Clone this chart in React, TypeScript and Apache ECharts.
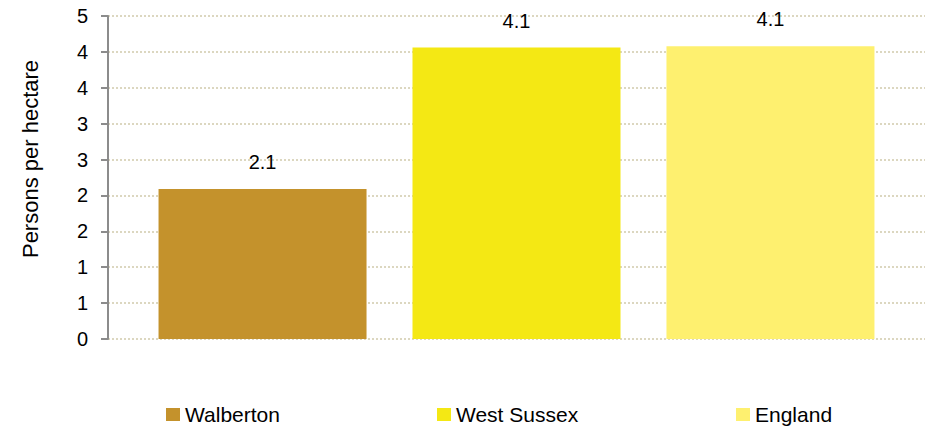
import React, { useEffect, useRef } from "react";
import * as echarts from "echarts";

const seriesNames = ["Walberton", "West Sussex", "England"];
const seriesValues = [2.09, 4.06, 4.08];
const seriesColors = ["#C4922C", "#F4E814", "#FEF06F"];
const yAxisTitle = "Persons per hectare";

const FONT = "'Liberation Sans', Arial, sans-serif";

export default function App() {
  const ref = useRef<HTMLDivElement>(null);
  useEffect(() => {
    if (!ref.current) return;
    const chart = echarts.init(ref.current, undefined, { renderer: "svg" });
    const legendLefts = [166, 437, 736];
    chart.setOption({
      animation: false,
      backgroundColor: "#ffffff",
      textStyle: { fontFamily: FONT },
      grid: { left: 108, right: 1, top: 16, height: 323 },
      xAxis: {
        type: "category",
        data: [""],
        axisLine: { show: false },
        axisTick: { show: false },
        axisLabel: { show: false },
      },
      yAxis: {
        type: "value",
        min: 0,
        max: 4.5,
        interval: 0.5,
        axisLine: { show: true, lineStyle: { color: "#8c8c8c", width: 2 } },
        axisTick: { show: true, length: 7, lineStyle: { color: "#8c8c8c", width: 2 } },
        axisLabel: {
          margin: 20,
          color: "#000",
          fontSize: 20,
          fontFamily: FONT,
          formatter: (v: number) => String(Math.round(v)),
        },
        splitLine: {
          show: true,
          lineStyle: { color: "#dcd7c0", width: 2, type: [2, 2] },
        },
      },
      legend: seriesNames.map((n, i) => ({
        data: [n],
        left: legendLefts[i],
        top: 404,
        padding: 0,
        icon: "rect",
        itemWidth: 14,
        itemHeight: 13,
        itemGap: 5,
        textStyle: { color: "#000", fontSize: 21, fontFamily: FONT, padding: [0, 0, 0, 0] },
        selectedMode: false,
      })),
      graphic: [
        {
          type: "text",
          x: 30,
          y: 159,
          rotation: Math.PI / 2,
          style: {
            text: yAxisTitle,
            fill: "#000",
            font: `22px ${FONT}`,
            textAlign: "center",
            textVerticalAlign: "middle",
          },
        },
      ],
      series: seriesNames.map((n, i) => ({
        type: "bar",
        name: n,
        data: [seriesValues[i]],
        barWidth: 208,
        barGap: "22.1%",
        itemStyle: { color: seriesColors[i] },
        label: {
          show: true,
          position: "top",
          distance: 17,
          color: "#000",
          fontSize: 20,
          fontFamily: FONT,
          formatter: (p: any) => (p.value as number).toFixed(1),
        },
      })),
    });
    return () => chart.dispose();
  }, []);
  return (
    <div
      ref={ref}
      style={{ position: "fixed", left: 0, top: 0, width: 926, height: 429 }}
    />
  );
}
